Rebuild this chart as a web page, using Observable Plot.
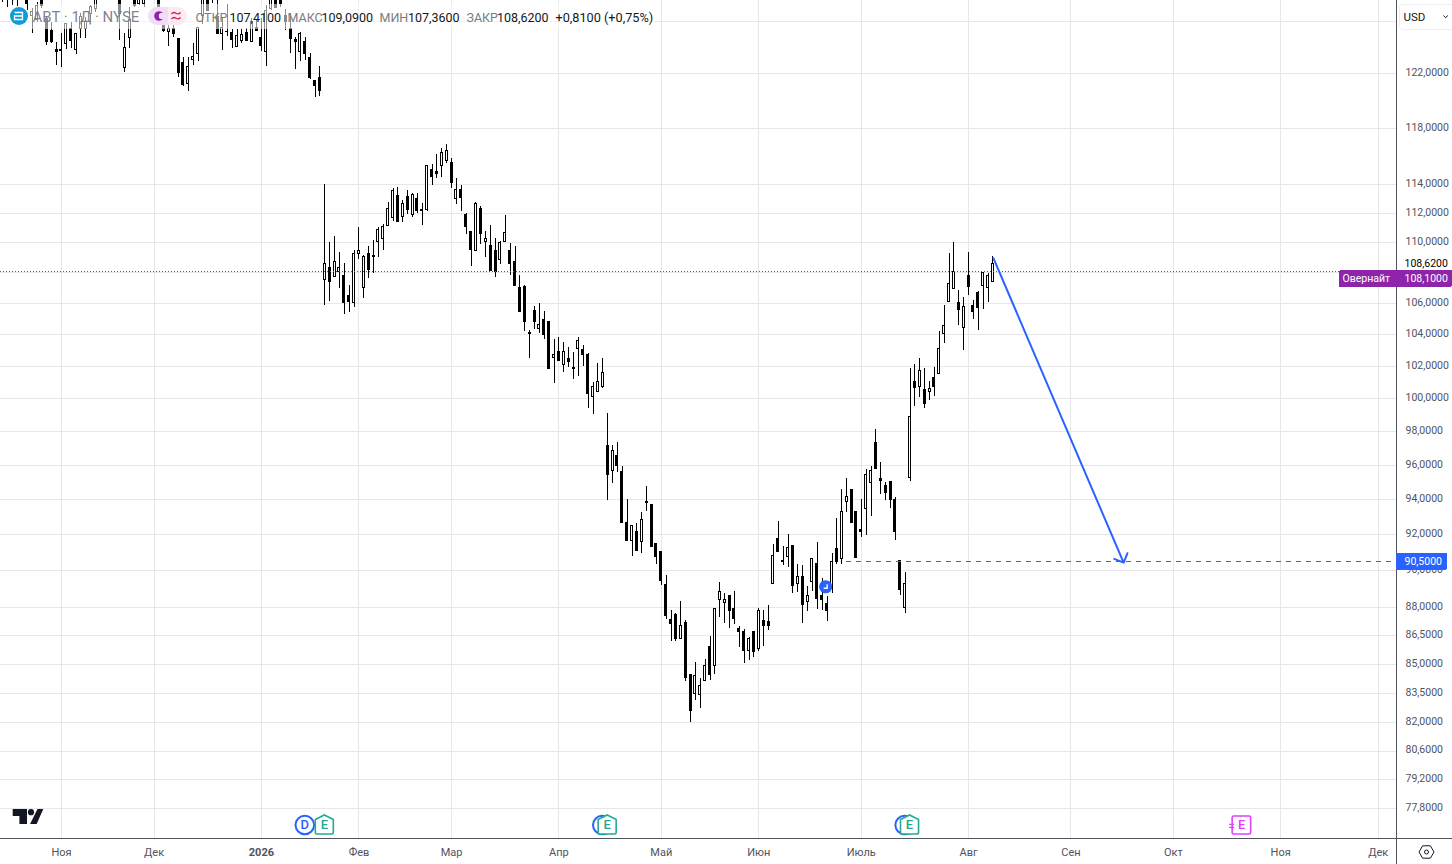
<!DOCTYPE html>
<html lang="ru">
<head>
<meta charset="utf-8">
<title>ABT · 1Д · NYSE</title>
<script src="https://cdn.jsdelivr.net/npm/d3@7"></script>
<script src="https://cdn.jsdelivr.net/npm/@observablehq/plot@0.6"></script>
<style>
  html, body { margin: 0; padding: 0; background: #fff; }
  #chart { width: 1452px; height: 864px; overflow: hidden; }
  #chart svg { display: block; }
  #chart line, #chart rect { shape-rendering: crispEdges; }
  #chart .soft, #chart .soft * { shape-rendering: auto; }
</style>
</head>
<body>
<div id="chart"></div>
<script>
const firstSession = -66;

const highs = [
129,129,129,129,129,129,126.98,127.44,128.5,126.36,
125.92,124.33,125.02,125.84,125.92,125.03,126.59,126.31,127.21,128.5,
129,129,129,129,129,125.03,127.08,128.5,128.3,128.4,
129,129,128.3,126.82,126.05,126.05,124.64,123.2,123.22,124.26,
125.53,128.2,128.2,128.5,127.6,126.21,127.29,125.34,125.36,125.36,
125.43,126.21,126.05,126.21,127.21,128.3,128.3,128.2,126.91,126.57,
124.72,125.11,124.77,123.5,121.51,122.53,
114.00,110.04,110.44,109.36,108.63,107.19,109.51,111.05,109.14,109.78,
110.17,111.05,111.25,112.75,113.73,113.82,112.89,113.59,113.37,113.37,
112.68,115.33,115.40,116.09,116.55,116.82,115.83,114.42,113.94,112.00,
110.71,112.75,112.48,110.78,111.18,110.31,110.10,111.86,109.97,109.78,
107.83,107.17,104.28,105.82,106.01,105.50,104.79,103.69,103.82,103.51,
103.19,102.87,103.82,103.32,102.78,100.97,102.19,102.49,99.07,97.19,
97.36,95.95,94.03,92.49,92.66,93.29,94.79,93.72,91.48,91.03,
89.76,87.85,87.69,88.34,87.32,84.43,85.11,84.26,85.27,86.47,
87.90,89.37,88.77,88.61,88.88,87.01,86.85,86.42,86.74,87.96,
87.85,88.12,91.48,92.77,91.37,92.04,91.37,90.36,90.31,89.15,
90.69,91.59,89.59,88.61,90.97,92.94,94.60,95.25,94.56,93.29,
94.03,95.75,95.95,98.14,96.18,95.02,95.02,94.15,90.53,89.92,
101.88,102.12,102.49,101.88,101.07,101.95,104.22,105.88,109.29,110.04,
106.84,106.40,109.36,106.20,106.77,108.04,107.98,109.09
];
const bodyTops = [
128.6,128.6,128.6,128.6,128.6,128.5,126.67,127.21,128,126.18,
125.24,123.82,123.80,125.8,125.41,124.98,126.28,125.92,127.08,128,
128.8,128.8,128.8,128.8,128.5,123.94,126.05,128,128,128.1,
128.5,128.5,128,126.26,125.41,125.41,124.64,122.83,122.53,123.3,
125.49,127.8,127.9,128.3,126.31,125.49,125.16,125.08,124.82,124.9,
125.08,125.92,125.49,124.72,126.82,128,128,127.9,126.43,125.41,
124.57,125.03,124.41,123.2,121.44,121.71,
108.61,108.30,108.74,108.30,107.83,106.46,109.29,109.43,109.03,109.23,
109.16,110.85,111.11,112.28,113.59,113.23,112.68,113.17,113.30,113.03,
112.21,115.33,115.05,114.91,116.26,116.36,115.54,113.66,113.66,111.93,
110.71,112.68,112.28,110.24,109.78,109.43,109.97,110.68,109.49,108.76,
107.04,107.10,104.11,105.50,104.59,104.91,104.79,102.69,102.87,102.87,
102.49,101.88,103.57,103.00,102.74,100.70,101.05,101.57,97.13,96.83,
96.54,95.60,92.66,92.49,92.15,92.83,93.86,93.69,91.48,91.03,
89.21,87.32,87.59,87.01,87.16,84.43,84.38,83.87,84.90,85.90,
87.90,88.83,88.39,88.61,87.90,86.85,86.67,86.32,86.69,87.80,
87.27,87.22,90.81,91.76,90.53,91.25,91.37,89.65,89.65,88.65,
90.64,90.36,88.65,88.18,90.51,91.19,93.29,94.15,94.56,93.29,
92.26,95.42,95.65,97.30,95.19,94.79,95.02,93.97,90.53,89.27,
98.87,101.01,101.69,100.52,100.57,101.25,103.06,104.53,107.30,108.04,
106.01,105.75,107.83,105.82,106.71,107.98,107.83,108.62
];
const bodyBottoms = [
128,128,128,128,128,127.34,126.36,126.05,127.21,124.38,
124.38,123.62,123.69,124.25,124.51,123.82,125.43,125.41,126.57,126.96,
128.5,128.5,128.5,128.5,126.57,122.45,124.69,127.21,127.29,127.34,
128,128.1,126.57,125.24,125.16,125.03,122.05,121.19,121.27,123.05,
123.5,126.43,126.82,128,125.03,124.98,125.13,124.57,123.99,124.51,
124.51,124.38,125.24,124.13,123.61,126.96,127.03,127.34,125.92,124.64,
124.41,123.64,123.5,121.71,121.09,120.72,
107.56,107.41,107.72,108.04,106.05,106.11,106.05,109.23,107.04,108.21,
109.07,110.08,110.24,111.18,111.70,111.43,111.79,112.25,111.90,112.16,
112.16,112.25,114.53,114.77,115.33,115.69,114.12,113.03,113.10,111.05,
109.54,109.43,110.58,110.04,108.13,108.04,108.83,110.08,108.57,107.14,
105.47,104.82,104.07,104.82,104.37,104.00,101.86,102.54,102.35,102.07,
102.29,101.86,103.10,102.72,100.31,100.12,100.39,100.74,95.46,95.65,
95.98,92.70,91.67,91.65,91.12,91.63,93.84,91.35,90.78,89.46,
87.52,87.14,86.30,86.32,84.31,82.58,83.46,83.41,84.15,84.45,
84.90,88.39,88.23,87.80,87.41,86.67,85.67,85.67,85.64,85.77,
86.99,86.99,89.30,91.06,90.51,90.75,89.19,89.27,88.16,88.28,
89.37,88.48,88.43,87.83,89.00,90.51,90.64,93.86,92.70,90.69,
92.18,93.46,94.99,95.79,95.11,94.41,93.97,92.15,88.97,88.00,
95.29,100.68,100.70,99.70,100.42,100.74,101.53,104.07,106.09,106.97,
105.60,104.44,107.08,105.47,105.73,107.17,107.04,107.41
];
const lows = [
127.44,127.06,127.2,127.13,127.8,126.82,125.05,125.92,126.98,124.16,
124.30,122.63,122.5,123.84,123.87,123.43,124.69,124.64,125.92,126.70,
127.9,127.9,127.9,127.9,124.51,122.12,123.92,127.08,127.21,127.03,
127.7,127.8,126.31,125.16,124.05,124.72,121.76,121.07,120.72,122.63,
122.93,125.74,126.82,127.37,125.0,123.75,124.84,123.92,123.99,124.3,
124.46,124.36,125.21,123.7,122.57,126.82,126.98,127.08,125.28,123.5,
122.3,122.95,123.0,121.56,120.27,120.35,
105.86,106.11,107.72,107.01,105.31,105.40,105.73,108.92,106.31,107.65,
107.98,109.00,109.51,111.09,111.43,111.43,111.41,111.95,111.70,112.00,
111.20,112.11,113.91,114.42,114.51,115.50,113.70,112.65,112.11,110.55,
108.41,109.40,109.88,109.00,108.13,107.72,108.59,110.04,107.83,107.14,
105.47,104.19,102.47,104.31,104.07,103.71,101.86,100.92,102.29,101.60,
101.92,101.17,101.35,101.98,99.39,99.02,100.37,100.64,93.95,94.94,
95.57,92.70,91.63,90.78,91.12,90.95,93.32,91.35,90.34,89.19,
87.36,86.19,86.19,86.30,84.10,82.02,83.13,82.73,84.10,84.15,
84.45,87.46,87.14,86.88,87.09,85.88,85.04,85.19,85.35,85.67,
85.93,86.78,89.25,91.00,90.29,90.18,88.75,88.81,87.14,87.78,
88.86,87.92,87.83,87.25,88.75,90.34,90.34,93.27,92.70,90.69,
91.85,91.95,93.04,95.79,94.33,93.95,93.50,91.68,88.65,87.69,
95.05,99.52,100.06,99.39,99.88,100.12,101.50,103.44,106.05,106.97,
104.57,102.97,106.50,104.95,104.25,105.60,106.05,107.36
];
const rising = [
0,0,1,0,1,0,1,1,0,0,
0,0,0,1,0,1,1,1,1,1,
1,0,1,0,0,1,1,0,1,1,
1,0,0,0,1,0,0,0,1,1,
1,1,0,1,0,1,0,0,1,1,
0,1,0,0,1,1,0,0,0,0,
0,1,0,0,0,0,
1,0,1,1,0,0,1,1,1,0,
0,1,1,1,1,0,1,0,1,0,
0,1,0,0,1,1,0,1,0,0,
0,1,0,1,0,0,1,1,0,0,
0,0,0,0,1,0,0,1,0,1,
0,0,1,0,0,1,1,1,0,1,
0,0,0,1,0,1,0,0,0,0,
0,0,0,1,0,0,1,1,1,0,
1,1,1,0,0,0,0,1,0,1,
0,0,1,0,0,1,0,1,0,1,
1,0,0,0,1,0,1,1,0,0,
0,1,1,0,0,0,0,0,0,1,
1,0,1,0,1,0,1,1,1,1,
0,1,0,0,0,1,1,1
];

// price axis
const gridPrices = [126,122,118,114,112,110,108,106,104,102,100,98,96,94,92,90,88,86.5,85,83.5,82,80.6,79.2,77.8];
const labelPrices = [122,118,114,112,110,106,104,102,100,98,96,94,92,90,88,86.5,85,83.5,82,80.6,79.2,77.8];
// time axis, counted in trading sessions
const monthSessions = [-54,-35,-13,7,26,48,69,89,110,132,153,174,196,216];
const monthLabels = ["Ноя","Дек","2026","Фев","Мар","Апр","Май","Июн","Июль","Авг","Сен","Окт","Ноя","Дек"];
// events
const dividendSessions = [-4,57,119];
const earningsSessions = [0,58,120];
const futureEarningsSessions = [188];
// price levels and drawing
const overnightPrice = 108.10;
const lastClose = 108.62;
const targetPrice = 90.50;
const arrowFrom = {session: 137.1, price: 108.98};
const arrowTo = {session: 163.8, price: 90.45};
const alertPoint = {session: 102.8, price: 89.1};
// legend
const legendOHLC = [
  ["ОТКР", 195, "107,4100", 229],
  ["МАКС", 287, "109,0900", 321],
  ["МИН", 379, "107,3600", 407.5],
  ["ЗАКР", 466, "108,6200", 496.5]
];

const FONT = "Roboto, 'Liberation Sans', sans-serif";
const BLUE = "#2962ff";
const PURPLE = "#8e24aa";
const GRID = "#e7e7e7";
const AXIS = "#50535e";
const LABEL = "#50535e";
const LEGEND_GREY = "#787b86";

const comma = p => p.toFixed(4).replace(".", ",");
const candles = highs.map((h, j) => ({
  session: firstSession + j, high: h, low: lows[j],
  top: bodyTops[j], bottom: bodyBottoms[j], rising: rising[j] === 1
}));
const halfBody = 0.205;

const pin = (text, dx, dy, o = {}) => Plot.text([text], {
  frameAnchor: "top-left", dx, dy, textAnchor: "start", lineAnchor: "middle",
  fontFamily: FONT, fontSize: 12.5, fill: "#131722", ...o
});

const svgG = cls => d3.create("svg:g").attr("class", cls || null);

const veil = () => {
  const g = svgG();
  g.append("rect").attr("x", 30).attr("y", 4).attr("width", 625).attr("height", 25)
    .attr("fill", "#fff").attr("fill-opacity", 0.55);
  return g.node();
};

const legendIcons = () => {
  const g = svgG("soft");
  g.append("circle").attr("cx", 19).attr("cy", 16).attr("r", 9).attr("fill", "#0f9bd7");
  g.append("path").attr("d", "M14.5 12.5h8v7h-8v-3.5h8")
    .attr("fill", "none").attr("stroke", "#fff").attr("stroke-width", 1.3);
  g.append("path").attr("d", "M168 7h-11a9 9 0 0 0 0 18h11z").attr("fill", "#f1def6");
  g.append("path").attr("d", "M168 7h10a9 9 0 0 1 0 18h-10z").attr("fill", "#fce9f1");
  g.append("circle").attr("cx", 159).attr("cy", 16).attr("r", 4.8).attr("fill", "#8e24aa");
  g.append("circle").attr("cx", 162).attr("cy", 16).attr("r", 3.2).attr("fill", "#f1def6");
  g.append("path").attr("d", "M171.5 14c1.5-1.8 3-1.8 4.5-.8s3 1 4.5-.7M171.5 19c1.5-1.8 3-1.8 4.5-.8s3 1 4.5-.7")
    .attr("fill", "none").attr("stroke", "#d81b60").attr("stroke-width", 1.3);
  return g.node();
};

const logo = () => {
  const g = svgG("soft");
  g.append("path").attr("d", "M12.7 809H27v15h-7.6v-8h-6.7z").attr("fill", "#131722");
  g.append("circle").attr("cx", 31).attr("cy", 812.2).attr("r", 3.1).attr("fill", "#131722");
  g.append("path").attr("d", "M37.5 809h5.8l-6.6 15h-6.6z").attr("fill", "#131722");
  return g.node();
};

const events = (index, scales) => {
  const g = svgG("soft");
  const cy = 825;
  const house = cx => "M" + (cx - 9) + " " + (cy - 5.5) + "L" + cx + " " + (cy - 10) + "L" + (cx + 9) + " " + (cy - 5.5)
    + "V" + (cy + 7.5) + "a1.5 1.5 0 0 1 -1.5 1.5H" + (cx - 7.5) + "a1.5 1.5 0 0 1 -1.5 -1.5z";
  const letter = (cx, t, fill, size) => g.append("text").attr("x", cx).attr("y", cy + 0.5)
    .attr("text-anchor", "middle").attr("dominant-baseline", "middle")
    .attr("font-family", FONT).attr("font-size", size).attr("font-weight", 500).attr("fill", fill).text(t);
  for (const s of dividendSessions) {
    const cx = scales.x(s);
    g.append("circle").attr("cx", cx).attr("cy", cy).attr("r", 9.3).attr("fill", "#fff")
      .attr("stroke", BLUE).attr("stroke-width", 2);
    // a badge stacked under an earnings badge shows only its rim
    if (!earningsSessions.some(e => Math.abs(e - s) < 2)) letter(cx, "D", BLUE, 13);
  }
  for (const s of earningsSessions) {
    const cx = scales.x(s);
    g.append("path").attr("d", house(cx)).attr("fill", "#fff").attr("stroke", "#22ab94").attr("stroke-width", 1.6);
    letter(cx, "E", "#22ab94", 13);
  }
  for (const s of futureEarningsSessions) {
    const cx = scales.x(s);
    g.append("rect").attr("x", cx - 9).attr("y", cy - 9).attr("width", 18.5).attr("height", 18).attr("rx", 1.5)
      .attr("fill", "#fff").attr("stroke", "#e040fb").attr("stroke-width", 1.6);
    g.append("path").attr("d", "M" + (cx - 12) + " " + (cy - 0.6) + "h5M" + (cx - 12) + " " + (cy + 2.4) + "h5")
      .attr("stroke", "#e040fb").attr("stroke-width", 1.3);
    letter(cx + 0.5, "E", "#e040fb", 13);
  }
  return g.node();
};

const alertBadge = (index, scales) => {
  const g = svgG("soft");
  const cx = scales.x(alertPoint.session), cy = scales.y(alertPoint.price);
  g.append("circle").attr("cx", cx).attr("cy", cy).attr("r", 6.6).attr("fill", BLUE);
  g.append("path").attr("d", "M" + (cx + 1.5) + " " + (cy - 2.5) + "V" + (cy + 1.5) + "H" + (cx - 2))
    .attr("fill", "none").attr("stroke", "#fff").attr("stroke-width", 1.4);
  return g.node();
};

const axisTags = (index, scales) => {
  const g = svgG();
  const ty = scales.y(targetPrice);
  g.append("rect").attr("x", 1396).attr("y", Math.round(ty) - 8).attr("width", 51).attr("height", 17).attr("rx", 2).attr("fill", BLUE);
  g.append("rect").attr("x", 1339).attr("y", 270).attr("width", 113).attr("height", 17).attr("rx", 2).attr("fill", PURPLE);
  return g.node();
};

const usdButton = () => {
  const g = svgG();
  g.append("rect").attr("x", 1399.5).attr("y", 4.5).attr("width", 60).attr("height", 25).attr("rx", 4)
    .attr("fill", "#fff").attr("stroke", "#eceef2");
  g.append("path").attr("class", "soft").attr("d", "M1443.5 15.5l2.2 2.2 2.2-2.2").attr("fill", "none").attr("stroke", "#131722").attr("stroke-width", 1);
  return g.node();
};

const settingsIcon = () => {
  const g = svgG("soft");
  g.append("path").attr("d", "M1419 852l3.6-6.2h7.8l3.6 6.2-3.6 6.2h-7.8z").attr("fill", "none").attr("stroke", "#131722").attr("stroke-width", 1);
  g.append("circle").attr("cx", 1426.5).attr("cy", 852).attr("r", 2).attr("fill", "none").attr("stroke", "#131722").attr("stroke-width", 1);
  return g.node();
};

const chart = Plot.plot({
  width: 1452,
  height: 864,
  marginTop: 0,
  marginLeft: 0,
  marginRight: 56,
  marginBottom: 26,
  style: {background: "#fff", fontFamily: FONT},
  x: {domain: [-66.5, 219.75], axis: null},
  y: {type: "log", domain: [76.40, 127.60], range: [838, 0], axis: null},
  marks: [
    // grid
    Plot.ruleX(monthSessions, {stroke: GRID, strokeWidth: 1}),
    Plot.ruleY(gridPrices, {x1: -66.5, x2: 219.75, stroke: GRID, strokeWidth: 1}),

    // candles
    Plot.ruleX(candles, {x: "session", y1: "low", y2: "high", stroke: "#000", strokeWidth: 1}),
    Plot.rect(candles.filter(d => !d.rising), {
      x1: d => d.session - halfBody, x2: d => d.session + halfBody,
      y1: "bottom", y2: "top", fill: "#000", stroke: "#000", strokeWidth: 1
    }),
    Plot.rect(candles.filter(d => d.rising), {
      x1: d => d.session - halfBody, x2: d => d.session + halfBody,
      y1: "bottom", y2: "top", fill: "#fff", stroke: "#000", strokeWidth: 1
    }),

    // levels
    Plot.ruleY([overnightPrice], {x1: -66.5, x2: 208, stroke: "#9c27b0", strokeWidth: 1, strokeDasharray: "1 2"}),
    Plot.ruleY([targetPrice], {x1: 107, x2: 219, stroke: BLUE, strokeWidth: 1, strokeDasharray: "5 5"}),
    Plot.arrow([0], {
      x1: () => arrowFrom.session, y1: () => arrowFrom.price,
      x2: () => arrowTo.session, y2: () => arrowTo.price,
      stroke: BLUE, strokeWidth: 2, headAngle: 90, headLength: 7.6
    }),
    alertBadge,

    // legend row
    veil,
    legendIcons,
    pin("ABT · 1Д · NYSE", 32, 17, {fill: LEGEND_GREY, fontSize: 15, fillOpacity: 0.95}),
    ...legendOHLC.map(r => pin(r[0], r[1], 17, {fill: LEGEND_GREY})),
    ...legendOHLC.map(r => pin(r[2], r[3], 17)),
    pin("+0,8100 (+0,75%)", 555, 17, {fontSize: 12.7}),

    // axis frame
    Plot.ruleX([219.75], {y1: 127.6, y2: 75.1, stroke: AXIS, strokeWidth: 1}),
    Plot.ruleY([76.40], {x1: -66.5, x2: 231.5, stroke: AXIS, strokeWidth: 1}),

    // price labels
    Plot.text(labelPrices, {
      frameAnchor: "right", y: d => d, text: comma, dx: 9, dy: -1, textAnchor: "start",
      fontFamily: FONT, fontSize: 10.5, fill: LABEL
    }),

    // time labels
    Plot.text(monthSessions.filter((s, i) => monthLabels[i] !== "2026"), {
      frameAnchor: "bottom", x: d => d, dy: 17,
      text: d => monthLabels[monthSessions.indexOf(d)],
      fontFamily: FONT, fontSize: 11, fill: LABEL
    }),
    Plot.text(monthSessions.filter((s, i) => monthLabels[i] === "2026"), {
      frameAnchor: "bottom", x: d => d, dy: 17,
      text: d => monthLabels[monthSessions.indexOf(d)],
      fontFamily: FONT, fontSize: 11, fontWeight: 700, fill: LABEL
    }),

    // tags and controls
    axisTags,
    pin(comma(targetPrice), 1404, 561.5, {fill: "#fff", fontSize: 10.5}),
    pin(comma(lastClose), 1404, 263.5, {fill: "#000", fontSize: 10.5}),
    pin("Овернайт", 1342, 278.5, {fill: "#fff", fontSize: 10.5}),
    pin(comma(overnightPrice), 1404, 278.5, {fill: "#fff", fontSize: 10.5}),
    usdButton,
    pin("USD", 1403, 16.5, {fontSize: 11.5, fill: "#131722"}),
    settingsIcon,
    logo,
    events
  ]
});
document.getElementById("chart").appendChild(chart);
</script>
</body>
</html>
